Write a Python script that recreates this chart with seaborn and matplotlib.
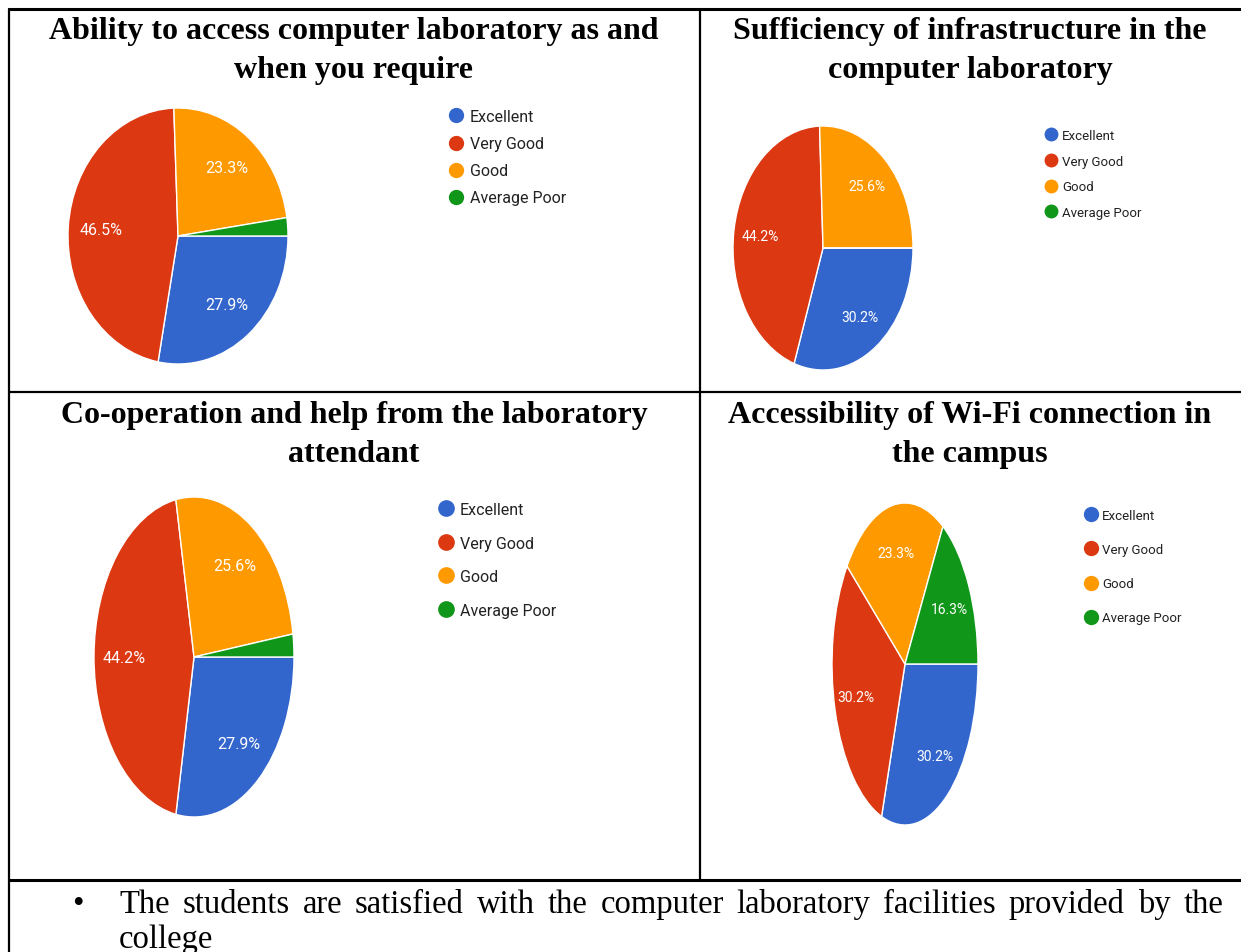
import matplotlib
matplotlib.use("Agg")
import matplotlib.pyplot as plt
from matplotlib.lines import Line2D
import seaborn as sns

categories = ["Excellent", "Very Good", "Good", "Average Poor"]
titles = [
    "Ability to access computer laboratory as and\nwhen you require",
    "Sufficiency of infrastructure in the\ncomputer laboratory",
    "Co-operation and help from the laboratory\nattendant",
    "Accessibility of Wi-Fi connection in\nthe campus",
]
access_lab = [27.9, 46.5, 23.3, 2.3]
infrastructure = [30.2, 44.2, 25.6, 0.0]
attendant_help = [27.9, 44.2, 25.6, 2.3]
wifi_access = [30.2, 30.2, 23.3, 16.3]
note_lines = [
    "The students are satisfied with the computer laboratory facilities provided by the",
    "college",
]

sns.set_theme(style="white")
plt.rcParams["font.family"] = ["Roboto", "DejaVu Sans"]
palette = sns.color_palette(["#3366cc", "#dc3912", "#ff9900", "#109618"])

W, H = 1241, 953
fig = plt.figure(figsize=(W / 100, H / 100), dpi=100)
fig.patch.set_facecolor("white")


def fx(x):
    return x / W


def fy(y):
    return 1 - y / H


# pie centre / radii in px, label size, legend anchor (px) + font size + row gap
panels = [
    dict(values=access_lab, title=titles[0], tpos=(354, 51),
         pie=(178, 237, 110, 128), lab=11.5, leg=(448, 110), lfs=11.5, lsp=0.76, ms=10),
    dict(values=infrastructure, title=titles[1], tpos=(970, 51),
         pie=(823, 249, 90, 122), lab=10, leg=(1044, 130), lfs=9.5, lsp=0.96, ms=9),
    dict(values=attendant_help, title=titles[2], tpos=(354, 435),
         pie=(194, 658, 100, 160), lab=11.5, leg=(438, 503), lfs=11.5, lsp=1.16, ms=11),
    dict(values=wifi_access, title=titles[3], tpos=(970, 435),
         pie=(905, 665, 73, 161), lab=10, leg=(1084, 510), lfs=9.5, lsp=1.6, ms=10),
]

for p in panels:
    cx, cy, rx, ry = p["pie"]
    ax = fig.add_axes([fx(cx - rx), fy(cy + ry), 2 * rx / W, 2 * ry / H])
    wedges, _, autotexts = ax.pie(
        p["values"], colors=palette, startangle=0, counterclock=False,
        autopct=lambda v: f"{v:.1f}%" if v >= 5 else "", pctdistance=0.7,
        wedgeprops=dict(edgecolor="white", linewidth=1),
        textprops=dict(color="white", fontsize=p["lab"]),
    )
    ax.set_aspect("auto")
    ax.set_xlim(-1, 1)
    ax.set_ylim(-1, 1)
    ax.axis("off")

    handles = [Line2D([], [], marker="o", linestyle="none", markersize=p["ms"],
                      markerfacecolor=c, markeredgecolor=c) for c in palette]
    lx, ly = p["leg"]
    leg = fig.legend(handles, categories, loc="upper left",
                     bbox_to_anchor=(fx(lx), fy(ly)), bbox_transform=fig.transFigure,
                     frameon=False, borderpad=0, borderaxespad=0,
                     handlelength=1.0, handletextpad=0.35,
                     labelspacing=p["lsp"], fontsize=p["lfs"])
    for t in leg.get_texts():
        t.set_color("#222222")

    tx, ty = p["tpos"]
    fig.text(fx(tx), fy(ty), p["title"], ha="center", va="center",
             family="Liberation Serif", weight="bold", fontsize=23,
             linespacing=1.42, color="black")

# table rules
line_kw = dict(color="black", linewidth=1.6, transform=fig.transFigure)
fig.add_artist(Line2D([fx(9), fx(1241)], [fy(10), fy(10)], **dict(line_kw, linewidth=2.2)))
fig.add_artist(Line2D([fx(9), fx(9)], [fy(10), fy(953)], **line_kw))
fig.add_artist(Line2D([fx(700), fx(700)], [fy(10), fy(881)], **line_kw))
fig.add_artist(Line2D([fx(9), fx(1241)], [fy(393), fy(393)], **line_kw))
fig.add_artist(Line2D([fx(9), fx(1241)], [fy(881), fy(881)], **dict(line_kw, linewidth=2.2)))

# bullet note, first line justified
body = dict(family="Liberation Serif", fontsize=23.5, color="black", va="center")
fig.text(fx(78), fy(905), "\u2022", ha="center", **body)
renderer = fig.canvas.get_renderer()
words = note_lines[0].split()
texts = [fig.text(0, fy(905), w, ha="left", **body) for w in words]
widths = [t.get_window_extent(renderer).width for t in texts]
gap = (1223 - 119 - sum(widths)) / (len(words) - 1)
x = 119
for t, w in zip(texts, widths):
    t.set_x(fx(x))
    x += w + gap
fig.text(fx(119), fy(940), note_lines[1], ha="left", **body)

fig.savefig("out.png", dpi=100, facecolor="white")
